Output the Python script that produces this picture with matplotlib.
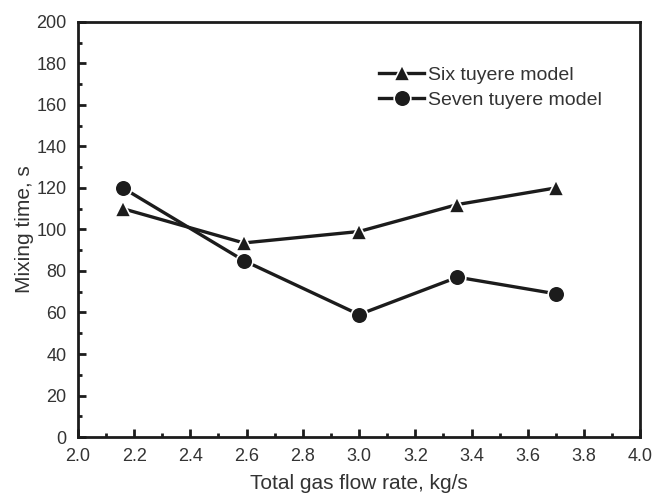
import matplotlib
matplotlib.use('Agg')
from matplotlib import pyplot as plt
from matplotlib.ticker import MultipleLocator

plt.rcParams['font.family'] = ['Liberation Sans', 'DejaVu Sans']

flow = [2.16, 2.59, 3.0, 3.35, 3.7]
six_tuyere = [110, 93.5, 99, 112, 120]
seven_tuyere = [120, 85, 59, 77, 69]

col = '#1c1c1c'
txt = '#333333'

fig = plt.figure(figsize=(6.54, 4.95), dpi=100)
ax = fig.add_axes([0.119, 0.117, 0.86, 0.839])

ax.plot(flow, six_tuyere, color=col, lw=2.4, marker='^', ms=12,
        mec='white', mew=1.2, mfc=col, label='Six tuyere model')
ax.plot(flow, seven_tuyere, color=col, lw=2.4, marker='o', ms=12,
        mec='white', mew=1.2, mfc=col, label='Seven tuyere model')

ax.set_xlim(2.0, 4.0)
ax.set_ylim(0, 200)
ax.xaxis.set_major_locator(MultipleLocator(0.2))
ax.xaxis.set_minor_locator(MultipleLocator(0.1))
ax.yaxis.set_major_locator(MultipleLocator(20))
ax.yaxis.set_minor_locator(MultipleLocator(10))
ax.xaxis.set_major_formatter(plt.FormatStrFormatter('%.1f'))
ax.tick_params(which='both', direction='in', colors=col, labelcolor=txt, labelsize=13)
ax.tick_params(which='major', length=6, width=2)
ax.tick_params(which='minor', length=3, width=2)
ax.tick_params(axis='x', which='major', pad=8)
ax.tick_params(axis='y', which='major', pad=8)
for s in ax.spines.values():
    s.set_linewidth(2)
    s.set_color(col)

ax.set_xlabel('Total gas flow rate, kg/s', fontsize=15, color=txt, labelpad=6)
ax.set_ylabel('Mixing time, s', fontsize=15, color=txt, labelpad=2)

leg = ax.legend(loc='upper left', bbox_to_anchor=(0.505, 0.935), frameon=False,
                fontsize=14, handlelength=2.3, handletextpad=0.2, labelspacing=0.4,
                labelcolor=txt)

fig.savefig('out.png', dpi=100)
